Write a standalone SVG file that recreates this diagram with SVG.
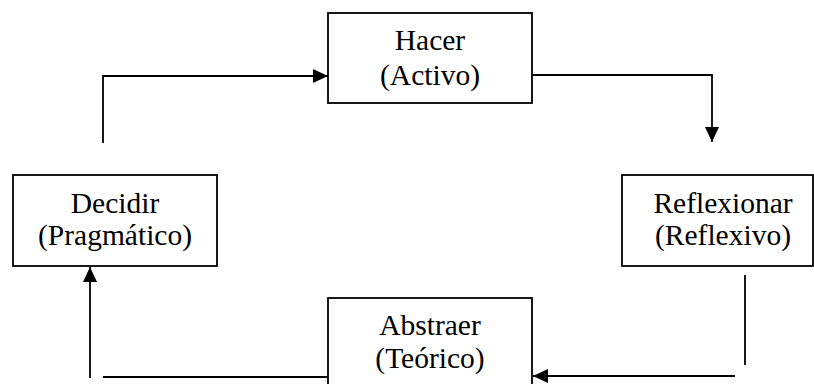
<svg xmlns="http://www.w3.org/2000/svg" width="814" height="384" viewBox="0 0 814 384">
<defs>
<marker id="ah" markerWidth="15" markerHeight="14" refX="15" refY="7" orient="auto" markerUnits="userSpaceOnUse">
<path d="M0,0 L15,7 L0,14 Z" fill="#000"/>
</marker>
<style>
.box{fill:#fff;stroke:#000;stroke-width:1.8}
.ln{fill:none;stroke:#000;stroke-width:1.8}
text{font-family:"Liberation Serif","Times New Roman",serif;font-size:29.5px;fill:#000;text-anchor:middle}
</style>
</defs>
<rect width="814" height="384" fill="#fff"/>
<g id="connectors">
<path class="ln" d="M103,143 V76 H328" marker-end="url(#ah)"/>
<path class="ln" d="M532,75 H712 V142" marker-end="url(#ah)"/>
<path class="ln" d="M745,275 V365"/>
<path class="ln" d="M735,376 H533" marker-end="url(#ah)"/>
<path class="ln" d="M103,377 H328"/>
<path class="ln" d="M90,378 V267" marker-end="url(#ah)"/>
</g>
<g id="hacer">
<rect class="box" x="328" y="13" width="204" height="90"/>
<text x="430" y="50">Hacer</text>
<text x="430" y="85">(Activo)</text>
</g>
<g id="reflexionar">
<rect class="box" x="622" y="175" width="191" height="91"/>
<text x="723" y="213">Reflexionar</text>
<text x="723" y="245">(Reflexivo)</text>
</g>
<g id="abstraer">
<rect class="box" x="328" y="298" width="204" height="100"/>
<text x="430" y="335">Abstraer</text>
<text x="430" y="368">(Teórico)</text>
</g>
<g id="decidir">
<rect class="box" x="13" y="175" width="204" height="91"/>
<text x="115" y="213">Decidir</text>
<text x="115" y="245">(Pragmático)</text>
</g>
</svg>
